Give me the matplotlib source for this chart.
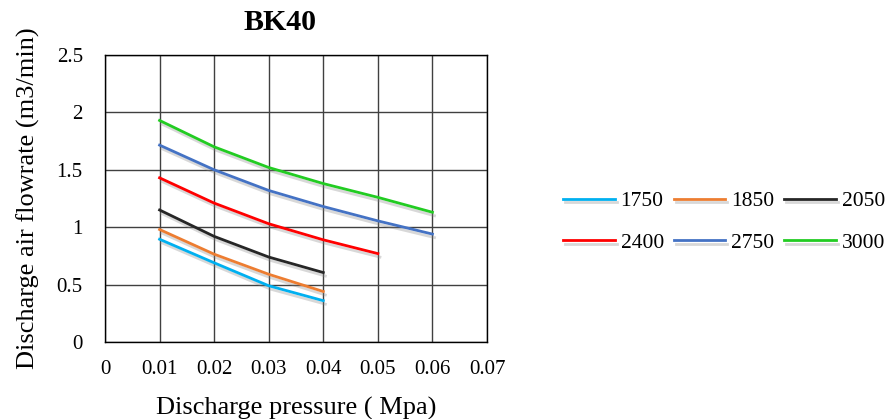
import matplotlib
matplotlib.use("Agg")
import matplotlib.pyplot as plt
import matplotlib.patheffects as pe

plt.rcParams['font.family'] = ['Liberation Serif', 'DejaVu Serif']

pressure = [0.01, 0.02, 0.03, 0.04, 0.05, 0.06]
speeds = ['1750', '1850', '2050', '2400', '2750', '3000']
flow_1750 = [0.895, 0.69, 0.49, 0.36]
flow_1850 = [0.98, 0.765, 0.59, 0.44]
flow_2050 = [1.15, 0.92, 0.74, 0.605]
flow_2400 = [1.43, 1.21, 1.03, 0.89, 0.77]
flow_2750 = [1.715, 1.50, 1.32, 1.18, 1.055, 0.94]
flow_3000 = [1.93, 1.70, 1.52, 1.38, 1.26, 1.13]
colors = ['#00B0F0', '#ED7D31', '#262626', '#FF0000', '#4472C4', '#22CC22']
series = [flow_1750, flow_1850, flow_2050, flow_2400, flow_2750, flow_3000]

fig = plt.figure(figsize=(8.89, 4.19), dpi=100)
ax = fig.add_axes([105/889, 1-342/419, (487-105)/889, (342-55)/419])

handles = []
for name, vals, c in zip(speeds, series, colors):
    h, = ax.plot(pressure[:len(vals)], vals, color=c, lw=2.0, label=name,
                 path_effects=[pe.SimpleLineShadow(offset=(1.5, -2.5), shadow_color='gray', alpha=0.3),
                               pe.Normal()])
    handles.append(h)

ax.set_xlim(0, 0.07)
ax.set_ylim(0, 2.5)
ax.set_xticks([0, 0.01, 0.02, 0.03, 0.04, 0.05, 0.06, 0.07])
ax.set_xticklabels(['0', '0.01', '0.02', '0.03', '0.04', '0.05', '0.06', '0.07'])
ax.set_yticks([0, 0.5, 1, 1.5, 2, 2.5])
ax.set_yticklabels(['0', '0.5', '1', '1.5', '2', '2.5'])
ax.grid(True, color='#404040', lw=1.0)
ax.set_axisbelow(True)
for s in ax.spines.values():
    s.set_color('black')
    s.set_linewidth(1.0)
ax.tick_params(length=0, labelsize=15)
ax.tick_params(axis='x', pad=13)
ax.tick_params(axis='y', pad=16)
ax.set_xlabel('Discharge pressure ( Mpa)', fontsize=19, labelpad=13)
ax.set_ylabel('Discharge air flowrate (m3/min)', fontsize=19, labelpad=12)
fig.text(280/889, 1-22/419, 'BK40', fontsize=21.5, fontweight='bold', ha='center', va='center')

order = [0, 3, 1, 4, 2, 5]
fig.legend([handles[i] for i in order], [speeds[i] for i in order],
           loc='center', bbox_to_anchor=(724/889, 1-222/419), ncol=3, frameon=False,
           fontsize=15.5, handlelength=2.4, handletextpad=0.28, columnspacing=0.45,
           labelspacing=1.0)

fig.savefig('out.png', dpi=100)
